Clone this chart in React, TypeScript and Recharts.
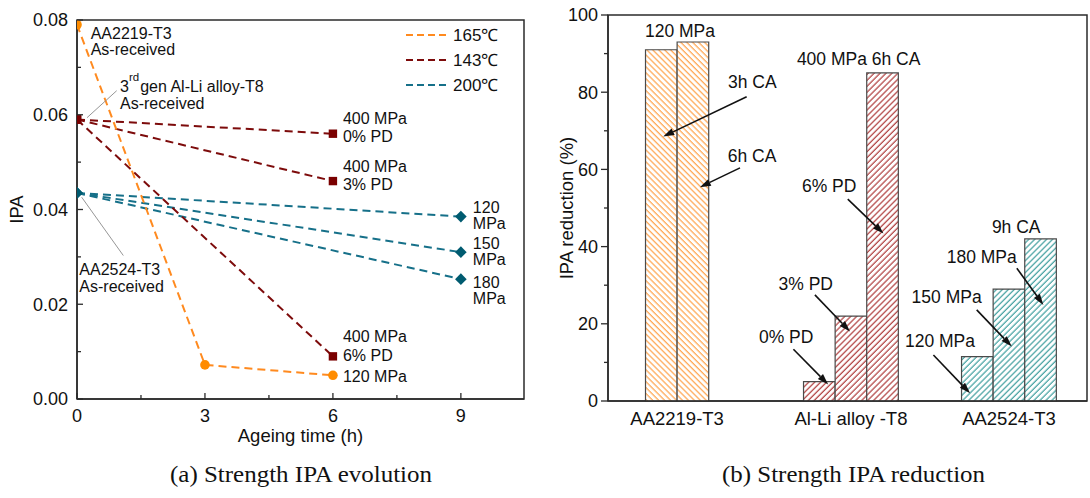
import React from 'react';
import {
  LineChart, Line, XAxis, YAxis, ReferenceDot, ReferenceLine, ReferenceArea, Legend,
  BarChart, Bar, Cell,
} from 'recharts';

const SANS = '"Liberation Sans", Arial, Helvetica, sans-serif';
const SERIF = '"Liberation Serif", "Times New Roman", Times, serif';
const AXIS = '#2b2b2b';
const TXT = '#111';

// ---------------- (a) Strength IPA evolution ----------------
const legendTemps = ['165℃', '143℃', '200℃'];
const lineColors = ['#FF8A1F', '#7D0B0B', '#167089'];
const markerColors = ['#FF8C00', '#7A0000', '#005B70'];

const hours165 = [0, 3, 6];
const ipa165 = [0.079, 0.0072, 0.005];
const label165 = ['120 MPa'];

const hours143 = [0, 6];
const ipa143Start = 0.059;
const ipa143End = [0.056, 0.046, 0.009];
const labels143 = [['400 MPa', '0% PD'], ['400 MPa', '3% PD'], ['400 MPa', '6% PD']];

const hours200 = [0, 9];
const ipa200Start = 0.0435;
const ipa200End = [0.0385, 0.031, 0.0253];
const labels200 = [['120', 'MPa'], ['150', 'MPa'], ['180', 'MPa']];

const leftXTicks = [0, 1.5, 3, 4.5, 6, 7.5, 9];
const leftXMajor = [0, 3, 6, 9];
const leftYTicks = [0, 0.01, 0.02, 0.03, 0.04, 0.05, 0.06, 0.07, 0.08];
const leftYMajor = [0, 0.02, 0.04, 0.06, 0.08];
const leftXMax = 10.48;
const leftYMax = 0.08;

// ---------------- (b) Strength IPA reduction ----------------
const groupNames = ['AA2219-T3', 'Al-Li alloy -T8', 'AA2524-T3'];
const aa2219Reduction = [91, 93]; // 120 MPa: 3h CA, 6h CA
const alLiReduction = [5, 22, 85]; // 400 MPa 6h CA: 0%, 3%, 6% PD
const aa2524Reduction = [11.5, 29, 42]; // 9h CA: 120, 150, 180 MPa
const aa2219Slots = [0, 1];
const alLiSlots = [5, 6, 7];
const aa2524Slots = [10, 11, 12];
const rightXMin = -1.687;
const rightXMax = 13.47;
const rightYTicks = [0, 10, 20, 30, 40, 50, 60, 70, 80, 90, 100];
const rightYMajor = [0, 20, 40, 60, 80, 100];
const hatchColors = ['#FF9A3A', '#A82A2A', '#2E9696'];
const hatchIds = ['hatchOrange', 'hatchRed', 'hatchTeal'];
const hatchAngles = [-45, 45, 45];

const barNotes = [
  { x: 0.59, y: 94.3, text: '120 MPa', anchor: 'middle' },
  { x: 2.11, y: 81.1, text: '3h CA', anchor: 'start' },
  { x: 2.1, y: 62.0, text: '6h CA', anchor: 'start' },
  { x: 4.29, y: 87.0, text: '400 MPa 6h CA', anchor: 'start' },
  { x: 4.45, y: 54.1, text: '6% PD', anchor: 'start' },
  { x: 3.71, y: 28.8, text: '3% PD', anchor: 'start' },
  { x: 3.09, y: 14.9, text: '0% PD', anchor: 'start' },
  { x: 10.46, y: 43.4, text: '9h CA', anchor: 'start' },
  { x: 9.03, y: 35.7, text: '180 MPa', anchor: 'start' },
  { x: 7.92, y: 25.3, text: '150 MPa', anchor: 'start' },
  { x: 7.71, y: 14.1, text: '120 MPa', anchor: 'start' },
];
const barArrows = [
  [[2.7, 78.8], [0.06, 68.5]],
  [[2.49, 60.4], [1.22, 55.4]],
  [[5.9, 52.3], [7.03, 43.4]],
  [[4.86, 27.5], [5.97, 18.0]],
  [[4.18, 13.4], [5.28, 4.3]],
  [[11.25, 34.4], [12.09, 24.9]],
  [[9.98, 23.6], [11.09, 14.1]],
  [[8.61, 11.9], [9.77, 2.0]],
];

// ---------------- derived tables ----------------
const series165 = hours165.map((h, i) => ({ x: h, y: ipa165[i] }));
const series143 = ipa143End.map((e) => [
  { x: hours143[0], y: ipa143Start },
  { x: hours143[1], y: e },
]);
const series200 = ipa200End.map((e) => [
  { x: hours200[0], y: ipa200Start },
  { x: hours200[1], y: e },
]);

const barRows = [
  ...aa2219Slots.map((s, i) => ({ slot: s, value: aa2219Reduction[i], group: 0 })),
  ...alLiSlots.map((s, i) => ({ slot: s, value: alLiReduction[i], group: 1 })),
  ...aa2524Slots.map((s, i) => ({ slot: s, value: aa2524Reduction[i], group: 2 })),
];
const groupCenters = [aa2219Slots, alLiSlots, aa2524Slots].map(
  (sl) => sl.reduce((a, b) => a + b, 0) / sl.length
);

const isIn = (arr: number[], v: number) => arr.some((m) => Math.abs(m - v) < 1e-9);

// ---------------- helpers ----------------
const tStyle = { fontFamily: SANS, fontSize: 17, fill: TXT } as any;
const nStyle = { fontFamily: SANS, fontSize: 16, fill: TXT } as any;

const makeMarker = (kind: string, color: string) => (p: any) => {
  const { cx, cy, index } = p;
  const key = `mk-${kind}-${index}`;
  if (cx == null || cy == null) return <g key={key} />;
  if (kind === 'circle') return <circle key={key} cx={cx} cy={cy} r={4.8} fill={color} />;
  if (kind === 'square')
    return <rect key={key} x={cx - 4.2} y={cy - 4.2} width={8.4} height={8.4} fill={color} />;
  const s = 5.8;
  return (
    <path
      key={key}
      d={`M${cx} ${cy - s} L${cx + s} ${cy} L${cx} ${cy + s} L${cx - s} ${cy} Z`}
      fill={color}
    />
  );
};

const LeftYTick = (p: any) => {
  const { x, y, payload } = p;
  const major = isIn(leftYMajor, payload.value);
  return (
    <g>
      <line x1={x} x2={x + (major ? 6 : 4)} y1={y} y2={y} stroke={AXIS} strokeWidth={1.3} />
      {major && (
        <text x={x - 9} y={y + 6.3} textAnchor="end" style={{ ...tStyle, fontSize: 18 }}>
          {payload.value.toFixed(2)}
        </text>
      )}
    </g>
  );
};

const LeftXTick = (p: any) => {
  const { x, y, payload } = p;
  const major = isIn(leftXMajor, payload.value);
  return (
    <g>
      <line x1={x} x2={x} y1={y} y2={y - (major ? 6 : 4)} stroke={AXIS} strokeWidth={1.3} />
      {major && (
        <text x={x} y={y + 23} textAnchor="middle" style={{ ...tStyle, fontSize: 18 }}>
          {payload.value}
        </text>
      )}
    </g>
  );
};

const RightYTick = (p: any) => {
  const { x, y, payload } = p;
  const major = isIn(rightYMajor, payload.value);
  return (
    <g>
      <line x1={x} x2={x - (major ? 7 : 4)} y1={y} y2={y} stroke={AXIS} strokeWidth={1.3} />
      {major && (
        <text x={x - 10} y={y + 6.3} textAnchor="end" style={{ ...tStyle, fontSize: 18 }}>
          {payload.value}
        </text>
      )}
    </g>
  );
};

const CategoryTick = (p: any) => {
  const { x, y, payload } = p;
  const idx = groupCenters.findIndex((c) => Math.abs(c - payload.value) < 1e-6);
  return (
    <text x={x} y={y + 24} textAnchor="middle" style={{ ...tStyle, fontSize: 18.5 }}>
      {idx >= 0 ? groupNames[idx] : ''}
    </text>
  );
};

const TextBlock = (
  lines: string[],
  dx: number,
  dys: number[],
  anchor: string = 'start',
  extra?: (cx: number, cy: number) => React.ReactNode
) => (p: any) => {
  const { cx, cy } = p;
  if (cx == null || cy == null) return <g />;
  return (
    <g>
      {extra ? extra(cx, cy) : null}
      {lines.map((l, i) => (
        <text key={i} x={cx + dx} y={cy + dys[i]} textAnchor={anchor as any} style={nStyle}>
          {l}
        </text>
      ))}
    </g>
  );
};

const ArrowShape = (p: any) => {
  const { x1, y1, x2, y2 } = p;
  if ([x1, y1, x2, y2].some((v) => v == null || Number.isNaN(v))) return <g />;
  const ang = Math.atan2(y2 - y1, x2 - x1);
  const L = 11;
  const W = 3.6;
  const bx = x2 - L * Math.cos(ang);
  const by = y2 - L * Math.sin(ang);
  const px = -Math.sin(ang) * W;
  const py = Math.cos(ang) * W;
  return (
    <g>
      <line x1={x1} y1={y1} x2={bx} y2={by} stroke="#111" strokeWidth={1.6} />
      <path d={`M${x2} ${y2} L${bx + px} ${by + py} L${bx - px} ${by - py} Z`} fill="#111" />
    </g>
  );
};

const LegendBox = () => (
  <svg width={130} height={75} style={{ overflow: 'visible' }}>
    {legendTemps.map((t, i) => (
      <g key={t}>
        <line
          x1={0}
          x2={42}
          y1={10 + i * 25}
          y2={10 + i * 25}
          stroke={lineColors[i]}
          strokeWidth={2.2}
          strokeDasharray="7 4"
        />
        <text x={47} y={10 + i * 25 + 6} style={{ ...tStyle, fontSize: 17 }}>
          {t}
        </text>
      </g>
    ))}
  </svg>
);

const dash = '8 5';

function LeftChart() {
  return (
    <LineChart width={560} height={460} margin={{ top: 20, right: 36, bottom: 31, left: 0 }}>
      <XAxis
        type="number"
        dataKey="x"
        domain={[0, leftXMax]}
        allowDataOverflow
        ticks={leftXTicks}
        interval={0}
        tick={<LeftXTick />}
        tickLine={false}
        tickSize={0}
        tickMargin={0}
        height={30}
        axisLine={{ stroke: AXIS, strokeWidth: 1.5 }}
        label={{
          content: (p: any) => {
            const vb = p.viewBox || { x: 77, y: 399, width: 447, height: 30 };
            return (
              <text x={vb.x + vb.width / 2} y={vb.y + 43} textAnchor="middle" style={{ ...tStyle, fontSize: 18.5 }}>
                Ageing time (h)
              </text>
            );
          },
        }}
      />
      <YAxis
        type="number"
        domain={[0, leftYMax]}
        ticks={leftYTicks}
        interval={0}
        tick={<LeftYTick />}
        tickLine={false}
        tickSize={0}
        tickMargin={0}
        width={77}
        axisLine={{ stroke: AXIS, strokeWidth: 1.5 }}
        label={{
          content: (p: any) => {
            const vb = p.viewBox || { x: 0, y: 20, width: 77, height: 379 };
            const cx = vb.x + 16;
            const cy = vb.y + vb.height / 2;
            return (
              <text
                x={cx}
                y={cy}
                transform={`rotate(-90 ${cx} ${cy})`}
                textAnchor="middle"
                dominantBaseline="central"
                style={{ ...tStyle, fontSize: 18.5 }}
              >
                IPA
              </text>
            );
          },
        }}
      />
      <ReferenceArea
        x1={0}
        x2={leftXMax}
        y1={0}
        y2={leftYMax}
        fill="none"
        fillOpacity={0}
        stroke={AXIS}
        strokeWidth={1.5}
        ifOverflow="visible"
      />
      <Legend
        layout="horizontal"
        align="center"
        verticalAlign="middle"
        content={<LegendBox />}
        wrapperStyle={{ left: 406, top: 25, width: 130, height: 75 }}
      />
      {series200.map((d, i) => (
        <Line
          key={`t${i}`}
          data={d}
          dataKey="y"
          type="linear"
          stroke={lineColors[2]}
          strokeWidth={2}
          strokeDasharray={dash}
          dot={makeMarker('diamond', markerColors[2])}
          activeDot={false}
          isAnimationActive={false}
          legendType="none"
        />
      ))}
      {series143.map((d, i) => (
        <Line
          key={`r${i}`}
          data={d}
          dataKey="y"
          type="linear"
          stroke={lineColors[1]}
          strokeWidth={2}
          strokeDasharray={dash}
          dot={makeMarker('square', markerColors[1])}
          activeDot={false}
          isAnimationActive={false}
          legendType="none"
        />
      ))}
      <Line
        data={series165}
        dataKey="y"
        type="linear"
        stroke={lineColors[0]}
        strokeWidth={2}
        strokeDasharray={dash}
        dot={makeMarker('circle', markerColors[0])}
        activeDot={false}
        isAnimationActive={false}
        legendType="none"
      />
      {/* end-point labels */}
      {ipa143End.map((v, i) => (
        <ReferenceDot
          key={`l143${i}`}
          x={hours143[1]}
          y={v}
          r={0}
          shape={TextBlock(labels143[i], 10, i === 2 ? [-14.5, 4.5] : [-9.5, 8.5])}
        />
      ))}
      {ipa200End.map((v, i) => (
        <ReferenceDot
          key={`l200${i}`}
          x={hours200[1]}
          y={v}
          r={0}
          shape={TextBlock(labels200[i], 12, i === 2 ? [8.5, 25] : [-3.5, 12.5])}
        />
      ))}
      <ReferenceDot
        x={hours165[2]}
        y={ipa165[2]}
        r={0}
        shape={TextBlock(label165, 10, [6.5])}
      />
      {/* as-received annotations */}
      <ReferenceDot
        x={hours165[0]}
        y={ipa165[0]}
        r={0}
        shape={TextBlock(['AA2219-T3', 'As-received'], 13.7, [14, 30])}
      />
      <ReferenceDot
        x={hours143[0]}
        y={ipa143Start}
        r={0}
        shape={(p: any) => {
          const { cx, cy } = p;
          if (cx == null || cy == null) return <g />;
          return (
            <g>
              <line x1={cx + 10} y1={cy - 1.8} x2={cx + 39.7} y2={cy - 28.8} stroke="#8a8a8a" strokeWidth={0.9} />
              <text x={cx + 43} y={cy - 27.5} style={nStyle}>
                <tspan>3</tspan>
                <tspan dy={-10.5} style={{ fontSize: 11.5 }}>rd</tspan>
                <tspan dy={10.5} dx={1}>gen Al-Li alloy-T8</tspan>
              </text>
              <text x={cx + 43} y={cy - 10.5} style={nStyle}>
                As-received
              </text>
            </g>
          );
        }}
      />
      <ReferenceDot
        x={hours200[0]}
        y={ipa200Start}
        r={0}
        shape={TextBlock(['AA2524-T3', 'As-received'], 2.3, [82.3, 99.3], 'start', (cx, cy) => (
          <line x1={cx + 4.7} y1={cy + 4.3} x2={cx + 46.3} y2={cy + 62.6} stroke="#8a8a8a" strokeWidth={0.9} />
        ))}
      />
    </LineChart>
  );
}

function RightChart() {
  return (
    <BarChart
      width={542}
      height={460}
      data={barRows}
      margin={{ top: 15, right: 3, bottom: 29, left: 0 }}
      barSize={31.6}
      barGap={0}
      barCategoryGap={0}
    >
      <XAxis
        type="number"
        dataKey="slot"
        domain={[rightXMin, rightXMax]}
        allowDataOverflow
        ticks={groupCenters}
        interval={0}
        tick={<CategoryTick />}
        tickLine={false}
        tickSize={0}
        tickMargin={0}
        height={30}
        axisLine={{ stroke: AXIS, strokeWidth: 1.5 }}
      />
      <YAxis
        type="number"
        domain={[0, 100]}
        ticks={rightYTicks}
        interval={0}
        tick={<RightYTick />}
        tickLine={false}
        tickSize={0}
        tickMargin={0}
        width={60}
        axisLine={{ stroke: AXIS, strokeWidth: 1.5 }}
        label={{
          content: (p: any) => {
            const vb = p.viewBox || { x: 0, y: 15, width: 60, height: 386 };
            const cx = vb.x + 18;
            const cy = vb.y + vb.height / 2;
            return (
              <text
                x={cx}
                y={cy}
                transform={`rotate(-90 ${cx} ${cy})`}
                textAnchor="middle"
                dominantBaseline="central"
                style={{ ...tStyle, fontSize: 18.5 }}
              >
                IPA reduction (%)
              </text>
            );
          },
        }}
      />
      <ReferenceArea
        x1={rightXMin}
        x2={rightXMax}
        y1={0}
        y2={100}
        fill="none"
        fillOpacity={0}
        stroke={AXIS}
        strokeWidth={1.5}
        ifOverflow="visible"
      />
      <Bar dataKey="value" isAnimationActive={false} stroke="#4a4a4a" strokeWidth={1.2}>
        {barRows.map((r, i) => (
          <Cell key={i} fill={`url(#${hatchIds[r.group]})`} />
        ))}
      </Bar>
      {barNotes.map((n, i) => (
        <ReferenceDot
          key={`bn${i}`}
          x={n.x}
          y={n.y}
          r={0}
          shape={(p: any) =>
            p.cx == null ? (
              <g />
            ) : (
              <text x={p.cx} y={p.cy} textAnchor={n.anchor as any} style={{ ...tStyle, fontSize: 17.5 }}>
                {n.text}
              </text>
            )
          }
        />
      ))}
      {barArrows.map((a, i) => (
        <ReferenceLine
          key={`ba${i}`}
          segment={[
            { x: a[0][0], y: a[0][1] },
            { x: a[1][0], y: a[1][1] },
          ]}
          stroke="#111"
          shape={ArrowShape}
        />
      ))}
    </BarChart>
  );
}

export default function App() {
  return (
    <div
      style={{
        position: 'absolute',
        left: 0,
        top: 0,
        width: 1090,
        height: 498,
        background: '#fff',
        overflow: 'hidden',
      }}
    >
      <svg width={1} height={1} style={{ position: 'absolute', left: 0, top: 0 }}>
        <defs>
          {hatchIds.map((id, i) => (
            <pattern
              key={id}
              id={id}
              patternUnits="userSpaceOnUse"
              width={4.2}
              height={4.2}
              patternTransform={`rotate(${hatchAngles[i]})`}
            >
              <rect width={4.2} height={4.2} fill="#fff" />
              <line x1={1} y1={0} x2={1} y2={4.2} stroke={hatchColors[i]} strokeWidth={1.1} />
            </pattern>
          ))}
        </defs>
      </svg>
      <div style={{ position: 'absolute', left: 0, top: 0 }}>
        <LeftChart />
      </div>
      <div style={{ position: 'absolute', left: 548, top: 0 }}>
        <RightChart />
      </div>
      <svg
        width={1090}
        height={498}
        style={{ position: 'absolute', left: 0, top: 0, pointerEvents: 'none' }}
      >
        <text
          x={301}
          y={482}
          textAnchor="middle"
          textLength={262}
          lengthAdjust="spacingAndGlyphs"
          style={{ fontFamily: SERIF, fontSize: 23, fill: TXT }}
        >
          (a) Strength IPA evolution
        </text>
        <text
          x={853.5}
          y={482}
          textAnchor="middle"
          textLength={263}
          lengthAdjust="spacingAndGlyphs"
          style={{ fontFamily: SERIF, fontSize: 23, fill: TXT }}
        >
          (b) Strength IPA reduction
        </text>
      </svg>
    </div>
  );
}
